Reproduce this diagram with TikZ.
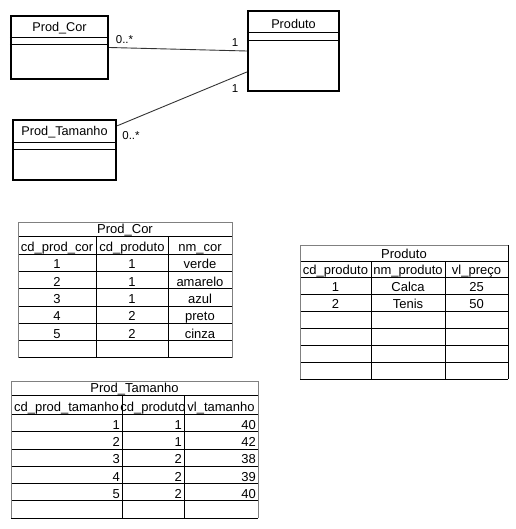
\documentclass[tikz,border=0pt]{standalone}
\usepackage{fontspec}
\setmainfont{Liberation Sans}
\usetikzlibrary{positioning,calc}

\begin{document}
\begin{tikzpicture}[
    x=1pt, y=-1pt,
    classbox/.style={draw,line width=2.4pt,inner sep=0pt},
    classname/.style={font=\fontsize{12.7}{14}\selectfont,inner sep=0pt,anchor=base},
    mult/.style={font=\fontsize{11.5}{13}\selectfont,inner sep=0pt},
    assoc/.style={draw=black!80,line width=0.9pt},
    divider/.style={line width=0.8pt},
    cell/.style={font=\fontsize{13}{15}\selectfont,inner sep=0pt,anchor=base},
    numcell/.style={cell,anchor=base east},
    gridline/.style={line width=0.75pt},
    rim/.style={line width=0.75pt,draw=black!50},
  ]
  \useasboundingbox (0,0) rectangle (515,529);

  % --- class diagram ---
  \node[classbox,minimum width=97pt,minimum height=63pt]  (cor)  at (59.5,47.5) {};
  \node[classbox,minimum width=91pt,minimum height=80pt]  (prod) at (293.5,51)  {};
  \node[classbox,minimum width=103pt,minimum height=60pt] (tam)  at (64.5,150)  {};

  \node[classname] (cor-name)  at (59.5,31.5)  {Prod\_Cor};
  \node[classname] (prod-name) at (293.5,28.3) {Produto};
  \node[classname] (tam-name)  at (64.5,136)   {Prod\_Tamanho};

  % attribute / operation compartments
  \foreach \c/\a/\b in {cor/22.7/30, prod/22.7/30.3, tam/24/31} {
    \draw[divider] ([yshift=-\a pt]\c.north west) -- ([yshift=-\a pt]\c.north east);
    \draw[divider] ([yshift=-\b pt]\c.north west) -- ([yshift=-\b pt]\c.north east);
  }

  % --- associations ---
  \draw[assoc] (cor.east) -- (prod.west);
  \draw[assoc] ([yshift=-7pt]tam.north east) -- ([yshift=-21pt]prod.west);

  \node[mult] (m-cor)    at (124.5,39.5) {0..*};
  \node[mult] (m-prod-a) at (235,42.5)   {1};
  \node[mult] (m-prod-b) at (235,89)     {1};
  \node[mult] (m-tam)    at (131,136)    {0..*};

  % --- table Prod_Cor ---
  \draw[gridline] (18,236) -- (232,236);
  \foreach \y in {254,271.3,288.6,305.9,323.2,340.5,357.8}
    \draw[gridline] (18,\y) -- (232,\y);
  \foreach \x in {96,168}
    \draw[gridline] (\x,236) -- (\x,357.8);
  \draw[rim] (18,357.8) -- (18,222) -- (232,222) -- (232,357.8);

  \node[cell] (cor-title) at (125,233.2) {Prod\_Cor};
  \node[cell] (cor-h1) at (57,251.3)  {cd\_prod\_cor};
  \node[cell] (cor-h2) at (132,251.3) {cd\_produto};
  \node[cell] (cor-h3) at (200,251.3) {nm\_cor};
  \foreach \a/\b/\n [count=\i] in {1/1/verde, 2/1/amarelo, 3/1/azul, 4/2/preto, 5/2/cinza} {
    \pgfmathsetmacro\yb{254+17.3*\i-2.4}
    \node[cell] (cor-\i-1) at (57,\yb)  {\a};
    \node[cell] (cor-\i-2) at (132,\yb) {\b};
    \node[cell] (cor-\i-3) at (200,\yb) {\n};
  }

  % --- table Produto ---
  \draw[gridline] (300,261) -- (508,261);
  \foreach \y in {277,294,311,328,345,362,379}
    \draw[gridline] (300,\y) -- (508,\y);
  \foreach \x in {371,445}
    \draw[gridline] (\x,261) -- (\x,379);
  \draw[rim] (300,379) -- (300,245) -- (508,245);
  \draw[gridline] (508,245) -- (508,379);

  \node[cell] (prod-title) at (404,258.4) {Produto};
  \node[cell] (prod-h1) at (335.5,274.4) {cd\_produto};
  \node[cell] (prod-h2) at (408,274.4)   {nm\_produto};
  \node[cell] (prod-h3) at (476.5,274.4) {vl\_preço};
  \foreach \a/\n/\v [count=\i] in {1/Calca/25, 2/Tenis/50} {
    \pgfmathsetmacro\yb{277+17*\i-2.4}
    \node[cell] (prod-\i-1) at (335.5,\yb) {\a};
    \node[cell] (prod-\i-2) at (408,\yb)   {\n};
    \node[cell] (prod-\i-3) at (476.5,\yb) {\v};
  }

  % --- table Prod_Tamanho ---
  \draw[gridline] (11,395) -- (258,395);
  \foreach \y in {414.3,431.6,448.9,466.2,483.5,500.8,518.1}
    \draw[gridline] (11,\y) -- (258,\y);
  \foreach \x in {122,184}
    \draw[gridline] (\x,395) -- (\x,518.1);
  \draw[rim] (11,518.1) -- (11,381) -- (258,381) -- (258,518.1);

  \node[cell] (tam-title) at (134.5,392.6) {Prod\_Tamanho};
  \node[cell] (tam-h1) at (66.5,411.6) {cd\_prod\_tamanho};
  \node[cell] (tam-h2) at (153,411.6)  {cd\_produto};
  \node[cell] (tam-h3) at (221,411.6)  {vl\_tamanho};
  \foreach \a/\b/\v [count=\i] in {1/1/40, 2/1/42, 3/2/38, 4/2/39, 5/2/40} {
    \pgfmathsetmacro\yb{414.3+17.3*\i-2.4}
    \node[numcell] (tam-\i-1) at (120,\yb) {\a};
    \node[numcell] (tam-\i-2) at (182,\yb) {\b};
    \node[numcell] (tam-\i-3) at (256,\yb) {\v};
  }

\end{tikzpicture}
\end{document}
